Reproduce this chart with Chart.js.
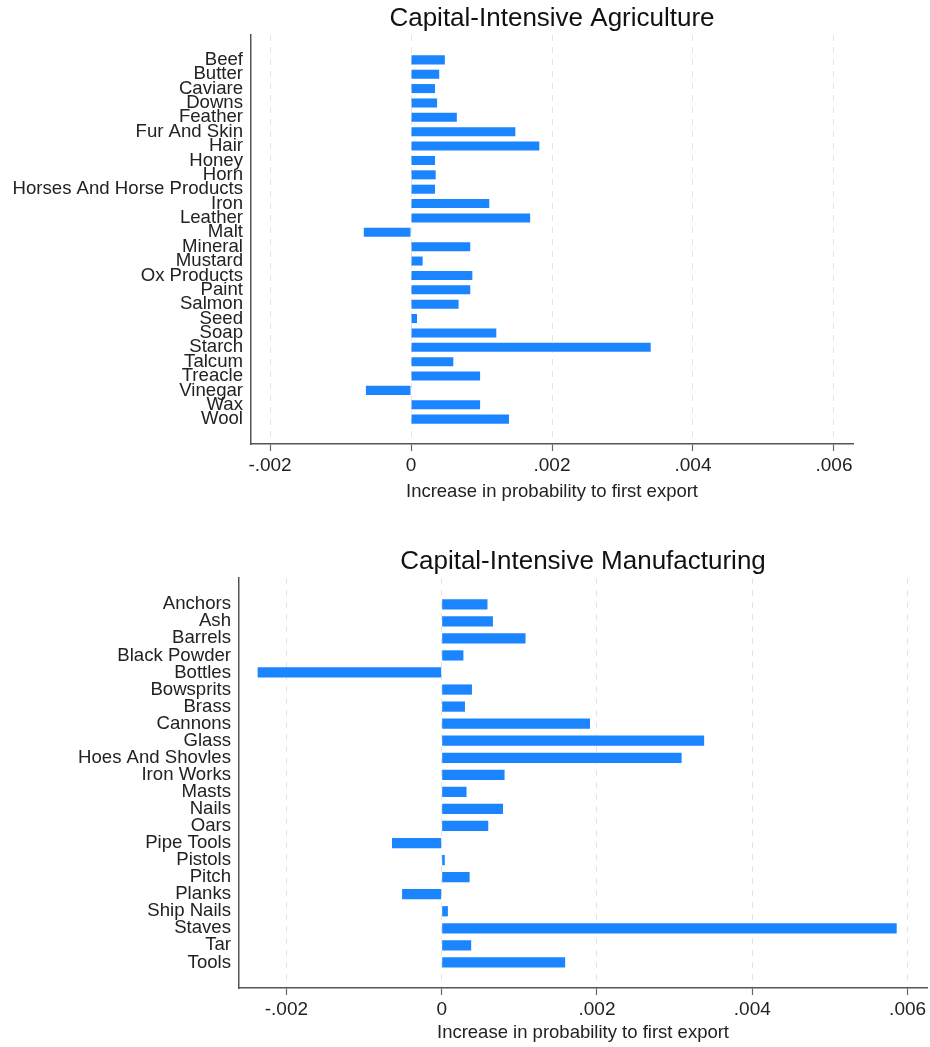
<!DOCTYPE html>
<html>
<head>
<meta charset="utf-8">
<script src="https://cdn.jsdelivr.net/npm/chart.js@4/dist/chart.umd.min.js"></script>
<style>
  html, body { margin: 0; padding: 0; background: #fff; overflow: hidden; }
  .panel { position: absolute; left: 0; }
</style>
</head>
<body>
<div class="panel" style="top:0"><canvas id="agriChart" width="930" height="514"></canvas></div>
<div class="panel" style="top:543px"><canvas id="manuChart" width="930" height="504"></canvas></div>
<script>
  // Agriculture products and their estimated effect
  const agriLabels = [
    "Beef", "Butter", "Caviare", "Downs", "Feather", "Fur And Skin", "Hair",
    "Honey", "Horn", "Horses And Horse Products", "Iron", "Leather", "Malt",
    "Mineral", "Mustard", "Ox Products", "Paint", "Salmon", "Seed", "Soap",
    "Starch", "Talcum", "Treacle", "Vinegar", "Wax", "Wool"
  ];
  const agriValues = [
    0.00048, 0.0004, 0.00034, 0.00037, 0.00065, 0.00148, 0.00182,
    0.00034, 0.00035, 0.00034, 0.00111, 0.00169, -0.00067,
    0.00084, 0.000165, 0.00087, 0.00084, 0.000675, 0.000085, 0.00121,
    0.0034, 0.0006, 0.00098, -0.00064, 0.00098, 0.00139
  ];

  // Manufacturing products
  const manuLabels = [
    "Anchors", "Ash", "Barrels", "Black Powder", "Bottles", "Bowsprits",
    "Brass", "Cannons", "Glass", "Hoes And Shovles", "Iron Works", "Masts",
    "Nails", "Oars", "Pipe Tools", "Pistols", "Pitch", "Planks",
    "Ship Nails", "Staves", "Tar", "Tools"
  ];
  const manuValues = [
    0.00059, 0.00066, 0.00108, 0.00028, -0.00237, 0.00039,
    0.0003, 0.00191, 0.00338, 0.00309, 0.00081, 0.00032,
    0.00079, 0.0006, -0.00064, 0.00004, 0.00036, -0.00051,
    0.00008, 0.00586, 0.00038, 0.00159
  ];

  // x axis ticks shared by both panels
  const xTickValues = [-0.002, 0, 0.002, 0.004, 0.006];
  const xTickLabels = ["-.002", "0", ".002", ".004", ".006"];
  const xTitle = "Increase in probability to first export";

  Chart.defaults.font.family = '"Liberation Sans", Arial, sans-serif';
  Chart.defaults.color = "#222";

  // title centred over the plot area rather than the whole canvas
  const plotTitle = {
    id: "plotTitle",
    afterDraw(chart, args, opts) {
      const { ctx, chartArea } = chart;
      ctx.save();
      ctx.font = '26px "Liberation Sans", Arial, sans-serif';
      ctx.fillStyle = "#111";
      ctx.textAlign = "center";
      ctx.textBaseline = "middle";
      ctx.fillText(opts.text, (chartArea.left + chartArea.right) / 2, opts.y);
      ctx.restore();
    }
  };

  function makeChart(id, cfg) {
    const points = cfg.values.map((v, i) => ({ x: v, y: i }));
    return new Chart(document.getElementById(id), {
      type: "bar",
      data: {
        datasets: [{
          data: points,
          backgroundColor: "#1a85ff",
          borderWidth: 0,
          barPercentage: cfg.barPct,
          categoryPercentage: 1
        }]
      },
      plugins: [plotTitle],
      options: {
        indexAxis: "y",
        responsive: false,
        animation: false,
        devicePixelRatio: 1,
        layout: { padding: { left: 0, right: cfg.padRight, top: 35, bottom: 0 } },
        plugins: {
          legend: { display: false },
          tooltip: { enabled: false },
          plotTitle: { text: cfg.title, y: 19 }
        },
        scales: {
          x: {
            type: "linear",
            bounds: "data",
            offset: false,
            min: cfg.xMin,
            max: cfg.xMax,
            afterBuildTicks: (scale) => {
              scale.ticks = xTickValues.map((v) => ({ value: v }));
            },
            afterFit: (scale) => { scale.height = cfg.xHeight; },
            ticks: {
              maxRotation: 0,
              autoSkip: false,
              padding: 3,
              font: { size: 19 },
              color: "#222",
              callback: (v, i) => xTickLabels[i]
            },
            grid: {
              color: "#e4e4e4",
              lineWidth: 1,
              tickLength: 7,
              tickColor: "#666",
              tickWidth: 1.2,
              tickBorderDash: []
            },
            border: { display: true, color: "#555", width: 1.5, dash: [6, 6] },
            title: {
              display: true,
              text: xTitle,
              font: { size: 18.5 },
              color: "#222",
              padding: { top: 0, bottom: cfg.xTitlePad }
            }
          },
          y: {
            type: "linear",
            bounds: "data",
            offset: false,
            reverse: true,
            min: cfg.yMin,
            max: cfg.yMax,
            afterBuildTicks: (scale) => {
              scale.ticks = cfg.labels.map((_, i) => ({ value: i }));
            },
            afterFit: (scale) => { scale.width = cfg.yWidth; },
            ticks: {
              autoSkip: false,
              padding: 8,
              font: { size: 18.6 },
              color: "#222",
              callback: (v, i) => cfg.labels[i]
            },
            grid: { display: false, drawTicks: false, offset: false },
            border: { display: true, color: "#555", width: 1.5 }
          }
        }
      }
    });
  }

  makeChart("agriChart", {
    title: "Capital-Intensive Agriculture",
    labels: agriLabels,
    values: agriValues,
    xMin: -0.00227, xMax: 0.00627,
    yMin: -1.73, yMax: 26.73,
    yWidth: 251, padRight: 77,
    xHeight: 70, xTitlePad: 11,
    barPct: 0.63
  });

  makeChart("manuChart", {
    title: "Capital-Intensive Manufacturing",
    labels: manuLabels,
    values: manuValues,
    xMin: -0.00261, xMax: 0.00625,
    yMin: -1.54, yMax: 22.5,
    yWidth: 239, padRight: 3,
    xHeight: 59, xTitlePad: 3,
    barPct: 0.6
  });
</script>
</body>
</html>
